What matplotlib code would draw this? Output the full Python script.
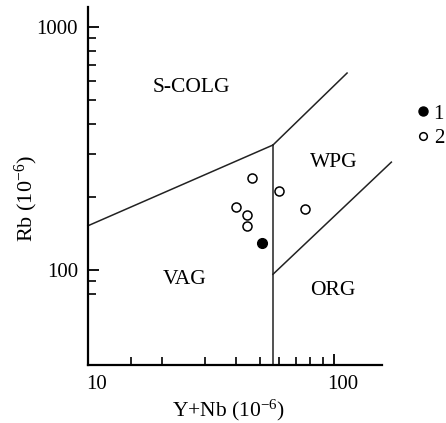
import matplotlib
matplotlib.use("Agg")
import matplotlib.pyplot as plt
import matplotlib.transforms as mtransforms
from matplotlib.lines import Line2D

plt.rcParams["font.family"] = ["Liberation Serif", "DejaVu Serif"]
plt.rcParams["mathtext.fontset"] = "custom"
plt.rcParams["mathtext.rm"] = "Liberation Serif"
plt.rcParams["mathtext.it"] = "Liberation Serif:italic"

# samples (Y+Nb, Rb) in ppm
group1_x = [50.9]
group1_y = [129]
group2_x = [46.4, 59.7, 40.0, 44.3, 44.3, 76.2]
group2_y = [239, 211, 182, 168, 152, 178]

# field boundaries
bound_vag_colg_x = [10, 56.5]
bound_vag_colg_y = [152, 327]
bound_colg_wpg_x = [56.5, 113]
bound_colg_wpg_y = [327, 647]
bound_vag_wpg_x = [56.5, 56.5]
bound_vag_wpg_y = [327, 40.6]
bound_wpg_org_x = [56.5, 171]
bound_wpg_org_y = [96, 278]

fields = ["S-COLG", "WPG", "VAG", "ORG"]
field_x = [26.3, 100, 24.8, 99]
field_y = [566, 278, 91, 82]

fig = plt.figure(figsize=(4.46, 4.23), dpi=100)
ax = fig.add_axes([0.197, 0.137, 0.66, 0.846])
ax.set_xscale("log")
ax.set_yscale("log")
ax.set_xlim(10, 157)
ax.set_ylim(40.6, 1208)

for bx, by in [(bound_vag_colg_x, bound_vag_colg_y),
               (bound_colg_wpg_x, bound_colg_wpg_y),
               (bound_vag_wpg_x, bound_vag_wpg_y),
               (bound_wpg_org_x, bound_wpg_org_y)]:
    ax.plot(bx, by, color="#222222", lw=1.1, clip_on=False)

ax.plot(group2_x, group2_y, "o", ms=6.5, mfc="white", mec="black", mew=1.1, clip_on=False)
ax.plot(group1_x, group1_y, "o", ms=7, mfc="black", mec="black", clip_on=False)

for name, fx, fy in zip(fields, field_x, field_y):
    ax.text(fx, fy, name, fontsize=15.5, ha="center", va="center")

# axes styling
for s in ["top", "right"]:
    ax.spines[s].set_visible(False)
for s in ["left", "bottom"]:
    ax.spines[s].set_linewidth(1.6)

ax.set_xticks([10, 100])
ax.set_xticklabels(["10", "100"])
ax.set_xticks([15, 20, 30, 40, 50, 60, 70, 80, 90], minor=True)
ax.set_yticks([100, 1000])
ax.set_yticklabels(["100", "1000"])
ax.set_yticks([80, 90, 200, 300, 400, 500, 600, 700, 800, 900], minor=True)
ax.xaxis.set_minor_formatter(plt.NullFormatter())
ax.yaxis.set_minor_formatter(plt.NullFormatter())
ax.tick_params(which="major", direction="in", length=8, width=1.3, labelsize=15, pad=7)
ax.tick_params(which="minor", direction="in", length=5.5, width=1.2)

offset = mtransforms.ScaledTranslation(9 / 100, 0, fig.dpi_scale_trans)
for lab in ax.get_xticklabels():
    lab.set_transform(lab.get_transform() + offset)

fig.text(228 / 446, 1 - 410 / 423, r"Y+Nb (10$^{-6}$)", fontsize=15.5, ha="center", va="center")
fig.text(26 / 446, 1 - 199 / 423, r"Rb (10$^{-6}$)", fontsize=16, ha="center", va="center",
         rotation=90)

handles = [Line2D([], [], ls="", marker="o", ms=6.5, mfc="black", mec="black"),
           Line2D([], [], ls="", marker="o", ms=5.5, mfc="white", mec="black", mew=1.1)]
fig.legend(handles, ["1", "2"], loc="upper left", bbox_to_anchor=(417 / 446, 1 - 104 / 423),
           frameon=False, fontsize=15, handlelength=0.6, handletextpad=0.2,
           labelspacing=0.25, borderpad=0, borderaxespad=0)

fig.savefig("out.png", dpi=100)
